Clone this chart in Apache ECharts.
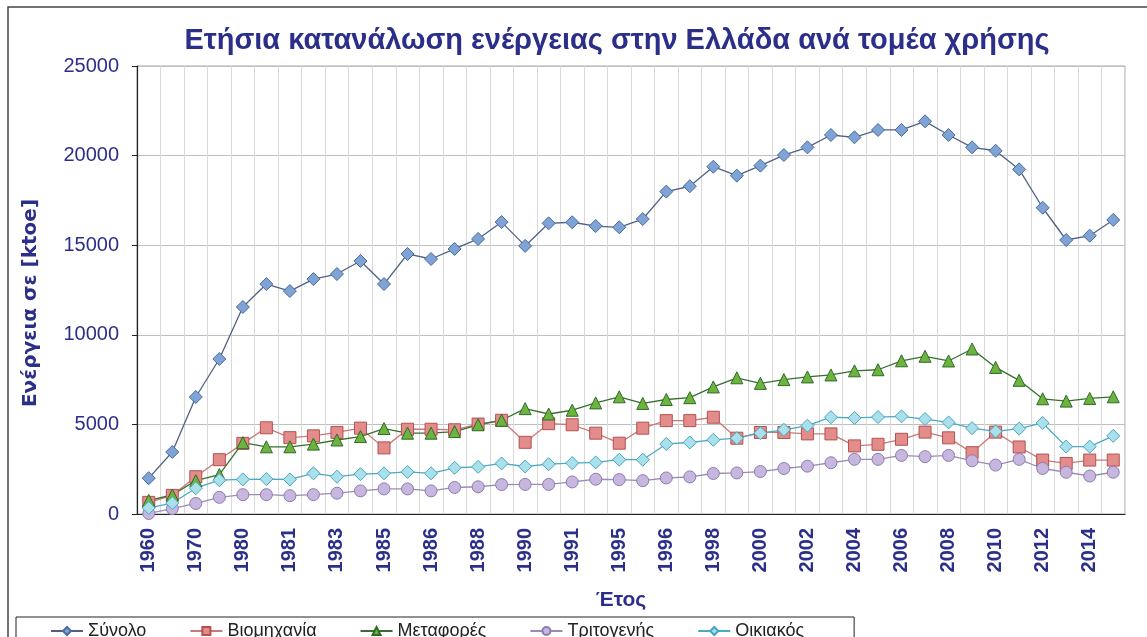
<!DOCTYPE html>
<html>
<head>
<meta charset="utf-8">
<script src="https://cdn.jsdelivr.net/npm/echarts@6/dist/echarts.min.js"></script>
<style>
  html, body { margin: 0; padding: 0; background: #fff; }
  #chart { width: 1147px; height: 637px; }
</style>
</head>
<body>
<div id="chart"></div>
<script>
// categories (every other label is shown, like the original)
const years = ['1960', '1965', '1970', '1975', '1980', '1980', '1981', '1982', '1983', '1984',
    '1985', '1985', '1986', '1987', '1988', '1989', '1990', '1990', '1991', '1992',
    '1995', '1995', '1996', '1997', '1998', '1999', '2000', '2001', '2002', '2003',
    '2004', '2005', '2006', '2007', '2008', '2009', '2010', '2011', '2012', '2013',
    '2014', '2015'];

const synolo = [2000, 3460, 6530, 8650, 11550, 12830, 12440, 13110, 13390, 14120,
    12830, 14510, 14230, 14790, 15350, 16290, 14960, 16220, 16280, 16070,
    16000, 16460, 17990, 18290, 19380, 18880, 19440, 20030, 20460, 21150,
    21020, 21430, 21430, 21910, 21150, 20460, 20270, 19230, 17090, 15290,
    15530, 16410];

const viomichania = [650, 1040, 2080, 3030, 3940, 4810, 4260, 4360, 4550, 4790,
    3690, 4730, 4730, 4700, 5020, 5230, 4000, 5040, 4980, 4510,
    3950, 4790, 5210, 5210, 5400, 4230, 4550, 4550, 4470, 4470,
    3800, 3890, 4170, 4570, 4250, 3420, 4570, 3740, 3010, 2820,
    3010, 3010];

const metafores = [760, 1060, 1860, 2200, 3980, 3750, 3750, 3900, 4130, 4320,
    4770, 4510, 4510, 4600, 4980, 5230, 5880, 5580, 5790, 6200,
    6540, 6170, 6390, 6490, 7090, 7600, 7290, 7500, 7650, 7760,
    7990, 8050, 8550, 8800, 8540, 9210, 8180, 7460, 6430, 6300,
    6450, 6540];

const tritogenis = [30, 300, 590, 930, 1080, 1080, 1020, 1080, 1160, 1290,
    1400, 1400, 1290, 1480, 1520, 1640, 1650, 1650, 1790, 1940,
    1920, 1860, 2010, 2070, 2260, 2290, 2370, 2540, 2670, 2860,
    3050, 3050, 3270, 3200, 3270, 2970, 2730, 3050, 2540, 2330,
    2120, 2330];

const oikiakos = [340, 610, 1440, 1890, 1930, 1950, 1930, 2270, 2080, 2220,
    2270, 2350, 2270, 2580, 2630, 2820, 2650, 2780, 2840, 2880,
    3030, 3030, 3910, 3990, 4140, 4230, 4510, 4700, 4930, 5400,
    5360, 5410, 5450, 5300, 5110, 4790, 4610, 4760, 5080, 3760,
    3760, 4360];

const navy = '#2b2f8a';

function lineSeries(name, data, symbol, size, lineColor, fill, border) {
    return {
        name: name,
        type: 'line',
        data: data,
        symbol: symbol,
        symbolSize: size,
        showAllSymbol: true,
        lineStyle: { color: lineColor, width: 1.3 },
        itemStyle: { color: fill, borderColor: border, borderWidth: 1 },
        emphasis: { disabled: true }
    };
}

const chart = echarts.init(document.getElementById('chart'), null, { renderer: 'canvas' });

chart.setOption({
    backgroundColor: '#fff',
    animation: false,
    graphic: [{
        type: 'rect',
        shape: { x: 8, y: 7, width: 1200, height: 700 },
        style: { fill: 'none', stroke: '#444', lineWidth: 1.5 },
        z: -1
    }],
    title: {
        text: 'Ετήσια κατανάλωση ενέργειας στην Ελλάδα ανά τομέα χρήσης',
        left: 612,
        top: 21,
        textAlign: 'center',
        textStyle: {
            color: navy,
            fontFamily: 'Liberation Sans',
            fontSize: 29,
            fontWeight: 'bold'
        }
    },
    legend: {
        left: 16,
        top: 617,
        itemWidth: 32,
        itemHeight: 10,
        itemGap: 43,
        padding: [5, 50, 10, 34],
        borderColor: '#222',
        borderWidth: 1,
        textStyle: {
            color: '#222',
            fontFamily: 'Liberation Sans',
            fontSize: 18
        },
        data: ['Σύνολο', 'Βιομηχανία', 'Μεταφορές', 'Τριτογενής', 'Οικιακός']
    },
    grid: {
        left: 137,
        right: 22,
        top: 66,
        bottom: 123,
        show: true,
        borderColor: '#a6a6a6',
        borderWidth: 1
    },
    xAxis: {
        type: 'category',
        data: years,
        boundaryGap: true,
        name: 'Έτος',
        nameLocation: 'middle',
        nameGap: 76,
        nameTextStyle: {
            color: navy,
            fontFamily: 'Liberation Sans',
            fontSize: 21,
            fontWeight: 'bold',
            padding: [0, 20, 0, 0]
        },
        axisLine: { lineStyle: { color: '#222', width: 1.2 } },
        axisTick: { interval: 0, length: 5, lineStyle: { color: '#222' } },
        axisLabel: {
            interval: 1,
            rotate: 90,
            margin: 14,
            color: navy,
            fontFamily: 'Liberation Sans',
            fontSize: 20,
            fontWeight: 'bold'
        },
        splitLine: { show: true, interval: 0, lineStyle: { color: '#d9d9d9' } }
    },
    yAxis: {
        type: 'value',
        min: 0,
        max: 25000,
        interval: 5000,
        name: 'Ενέργεια σε [ktoe]',
        nameLocation: 'middle',
        nameGap: 96,
        nameRotate: 90,
        nameTextStyle: {
            color: navy,
            fontFamily: 'DejaVu Sans',
            fontSize: 20,
            fontWeight: 'bold',
            padding: [0, 26, 0, 0]
        },
        axisLine: { show: true, lineStyle: { color: '#222', width: 1.2 } },
        axisTick: { show: true, length: 5, lineStyle: { color: '#222' } },
        axisLabel: {
            margin: 18,
            color: navy,
            fontFamily: 'Liberation Sans',
            fontSize: 20,
            formatter: (value) => String(value)
        },
        splitLine: { lineStyle: { color: '#bfbfbf' } }
    },
    series: [
        lineSeries('Σύνολο', synolo, 'diamond', 13, '#4f6285', '#7ea3d4', '#4a6b9c'),
        lineSeries('Βιομηχανία', viomichania, 'rect', 12, '#c97a78', '#e28d8b', '#b5504e'),
        lineSeries('Μεταφορές', metafores, 'triangle', 12, '#35702f', '#6db43e', '#2f6a2a'),
        lineSeries('Τριτογενής', tritogenis, 'circle', 12, '#9a8cb7', '#c7b6dd', '#8d7cb4'),
        lineSeries('Οικιακός', oikiakos, 'diamond', 13, '#4aa9c4', '#a9e0ea', '#48a5c0')
    ]
});
</script>
</body>
</html>
